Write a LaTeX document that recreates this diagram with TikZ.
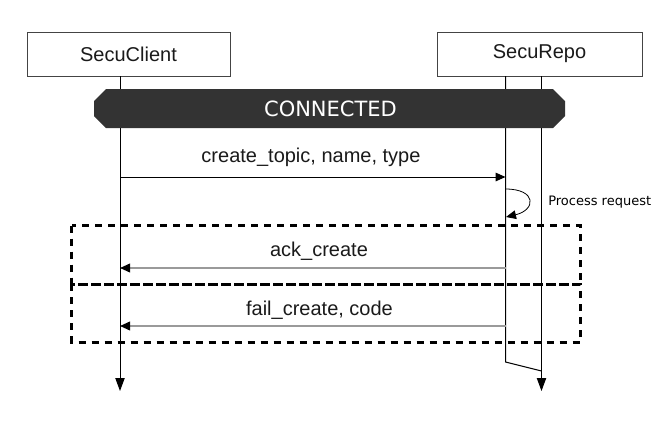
\documentclass[tikz,border=0pt]{standalone}
\usepackage{fontspec}
\setmainfont{Liberation Sans}
\newfontfamily\dejavu{DejaVu Sans}
\usetikzlibrary{arrows.meta}
\definecolor{barfill}{HTML}{333333}
\definecolor{retgray}{HTML}{9A9A9A}
\definecolor{boxline}{HTML}{444444}
\definecolor{txt}{HTML}{1A1A1A}
\tikzset{
  actor/.style={draw=boxline, line width=0.75pt, fill=white, inner sep=0pt,
    text=txt, font=\fontsize{15}{18}\selectfont},
  lifeline/.style={draw=black, line width=0.75pt},
  lifeend/.style={-{Triangle[length=9.75pt,width=7pt]}},
  msg/.style={draw=black, line width=0.75pt, -{Triangle[length=7.5pt,width=6.5pt]}},
  retmsg/.style={draw=retgray, line width=1.2pt, -{Triangle[length=7.5pt,width=6.5pt,color=black]}},
  msglabel/.style={inner sep=0pt, text=txt, font=\fontsize{15}{18}\selectfont},
  framebox/.style={draw=black, line width=2.25pt, dash pattern=on 5.25pt off 4.5pt},
  statebar/.style={fill=barfill, draw=none},
  statelabel/.style={text=white, inner sep=0pt, font=\dejavu\fontsize{15.75}{18}\selectfont},
  notelabel/.style={inner sep=0pt, anchor=west, text=black, font=\dejavu\fontsize{9.75}{12}\selectfont}
}
\begin{document}
\begin{tikzpicture}[x=0.75pt, y=-0.75pt]
\useasboundingbox (0,0) rectangle (662,426);
% actors
\node[actor, minimum width=152.25pt, minimum height=33pt] (client) at (128.5,54) {SecuClient};
\node[actor, minimum width=153.75pt, minimum height=33pt] (repo) at (539.5,54) {SecuRepo};
% lifeline coordinates
\coordinate (cTop) at (120,76);
\coordinate (cEnd) at (120,391);
\coordinate (rTopL) at (505.5,76);
\coordinate (rBotL) at (505.5,362);
\coordinate (rTopR) at (541.5,76);
\coordinate (rSlant) at (541.5,371);
\coordinate (rEnd) at (541.5,391);
% lifelines
\draw[lifeline, lifeend] (cTop) -- (cEnd);
\draw[lifeline] (rTopL) -- (rBotL) -- (rSlant);
\draw[lifeline, lifeend] (rTopR) -- (rEnd);
% state bar
\path[statebar] (106,89) -- (553,89) -- (565,101) -- (565,116) -- (553,128)
  -- (106,128) -- (94,116) -- (94,101) -- cycle;
\node[statelabel] (connected) at (330.5,108.5) {CONNECTED};
% message 1
\coordinate (m1s) at (120,177);
\coordinate (m1e) at (505.5,177);
\draw[msg] (m1s) -- (m1e);
\node[msglabel] (m1l) at (311,157) {create\_topic, name, type};
% self message
\coordinate (s1) at (505.5,189);
\coordinate (s2) at (506,217);
\draw[msg, line width=0.6pt] (s1) .. controls (537,189) and (536,210) .. (s2);
\node[notelabel] (note) at (548,202) {Process request};
% frames
\node[draw=none, inner sep=0pt] (f1tl) at (71.5,225.5) {};
\draw[framebox] (71.5,225.5) rectangle (580.5,284);
\draw[framebox] (71.5,284) rectangle (580.5,342);
% return messages
\coordinate (r1s) at (505.5,268);
\coordinate (r1e) at (120,268);
\draw[retmsg] (r1s) -- (r1e);
\node[msglabel] (r1l) at (319,251) {ack\_create};
\coordinate (r2s) at (505.5,326);
\coordinate (r2e) at (120,326);
\draw[retmsg] (r2s) -- (r2e);
\node[msglabel] (r2l) at (319.5,310) {fail\_create, code};
\end{tikzpicture}
\end{document}
